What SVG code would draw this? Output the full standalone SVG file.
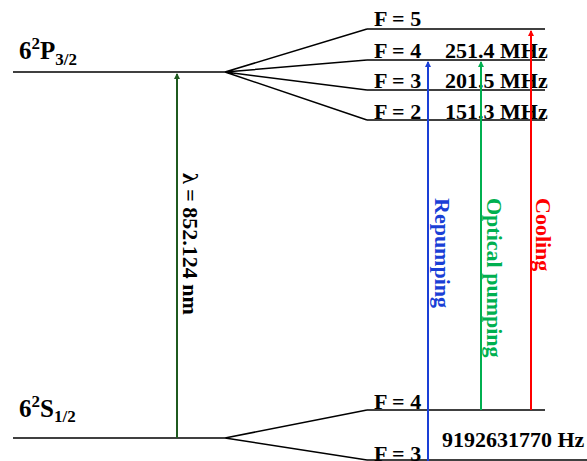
<svg xmlns="http://www.w3.org/2000/svg" width="587" height="461" viewBox="0 0 587 461">
<style>
.lv{stroke:#000;stroke-width:1.5;fill:none}
.t{font-family:"Liberation Serif","Times New Roman",serif;font-weight:bold;font-size:22px;fill:#000}
.big{font-size:25px}
.sub{font-size:17px}
.ar{stroke-width:2;fill:none}
</style>
<defs>
<marker id="mb" markerWidth="6" markerHeight="6" refX="3" refY="1" markerUnits="userSpaceOnUse" viewBox="0 0 6 6"><path d="M0,6 L3,0 L6,6 Z" fill="#1a3fd6"/></marker>
<marker id="mg" markerWidth="6" markerHeight="6" refX="3" refY="1" markerUnits="userSpaceOnUse" viewBox="0 0 6 6"><path d="M0,6 L3,0 L6,6 Z" fill="#00b050"/></marker>
<marker id="mr" markerWidth="6" markerHeight="6" refX="3" refY="1" markerUnits="userSpaceOnUse" viewBox="0 0 6 6"><path d="M0,6 L3,0 L6,6 Z" fill="#ff0000"/></marker>
<marker id="md" markerWidth="6" markerHeight="6" refX="3" refY="1" markerUnits="userSpaceOnUse" viewBox="0 0 6 6"><path d="M0,6 L3,0 L6,6 Z" fill="#1f5a1f"/></marker>
</defs>
<g id="P32">
<line class="lv" x1="13" y1="72" x2="225" y2="72"/>
<text class="t big" x="19" y="59">6<tspan dy="-10" class="sub">2</tspan><tspan dy="10">P</tspan><tspan class="sub" dy="6">3/2</tspan></text>
</g>
<g id="S12">
<line class="lv" x1="13" y1="438" x2="225" y2="438"/>
<text class="t big" x="19" y="417">6<tspan dy="-10" class="sub">2</tspan><tspan dy="10">S</tspan><tspan class="sub" dy="5">1/2</tspan></text>
</g>
<g id="F5">
<line class="lv" x1="367" y1="29" x2="545" y2="29"/>
<text class="t" x="374" y="26">F = 5</text>
</g>
<g id="F4">
<line class="lv" x1="367" y1="60" x2="545" y2="60"/>
<text class="t" x="374" y="58">F = 4</text>
<text class="t" x="445" y="58">251.4 MHz</text>
</g>
<g id="F3">
<line class="lv" x1="367" y1="90" x2="545" y2="90"/>
<text class="t" x="374" y="88">F = 3</text>
<text class="t" x="445" y="88">201.5 MHz</text>
</g>
<g id="F2">
<line class="lv" x1="367" y1="120" x2="545" y2="120"/>
<text class="t" x="374" y="119">F = 2</text>
<text class="t" x="445" y="119">151.3 MHz</text>
</g>
<g id="G4">
<line class="lv" x1="367" y1="410" x2="545" y2="410"/>
<text class="t" x="374" y="409">F = 4</text>
</g>
<g id="G3">
<line class="lv" x1="367" y1="460" x2="587" y2="460"/>
<text class="t" x="374" y="461">F = 3</text>
<text class="t" x="442" y="447">9192631770 Hz</text>
</g>
<g id="connectors">
<path class="lv" d="M225,72 L367,29 M225,72 L367,60 M225,72 L367,90 M225,72 L367,120"/>
<path class="lv" d="M225,438 L367,410 M225,438 L367,460"/>
<line class="ar" x1="177" y1="438" x2="177" y2="74" stroke="#1f5a1f" stroke-width="1.3" marker-end="url(#md)"/>
<line class="ar" x1="428" y1="461" x2="428" y2="62" stroke="#1a3fd6" marker-end="url(#mb)"/>
<line class="ar" x1="481" y1="410" x2="481" y2="62" stroke="#00b050" marker-end="url(#mg)"/>
<line class="ar" x1="531" y1="410" x2="531" y2="31" stroke="#ff0000" marker-end="url(#mr)"/>
<text class="t" transform="translate(183,173) rotate(90)">λ = 852.124 nm</text>
<text class="t" transform="translate(435,198) rotate(90)" style="fill:#1a3fd6">Repumping</text>
<text class="t" transform="translate(487,198) rotate(90)" style="fill:#00b050">Optical pumping</text>
<text class="t" transform="translate(536,198) rotate(90)" style="fill:#ff0000">Cooling</text>
</g>
</svg>
